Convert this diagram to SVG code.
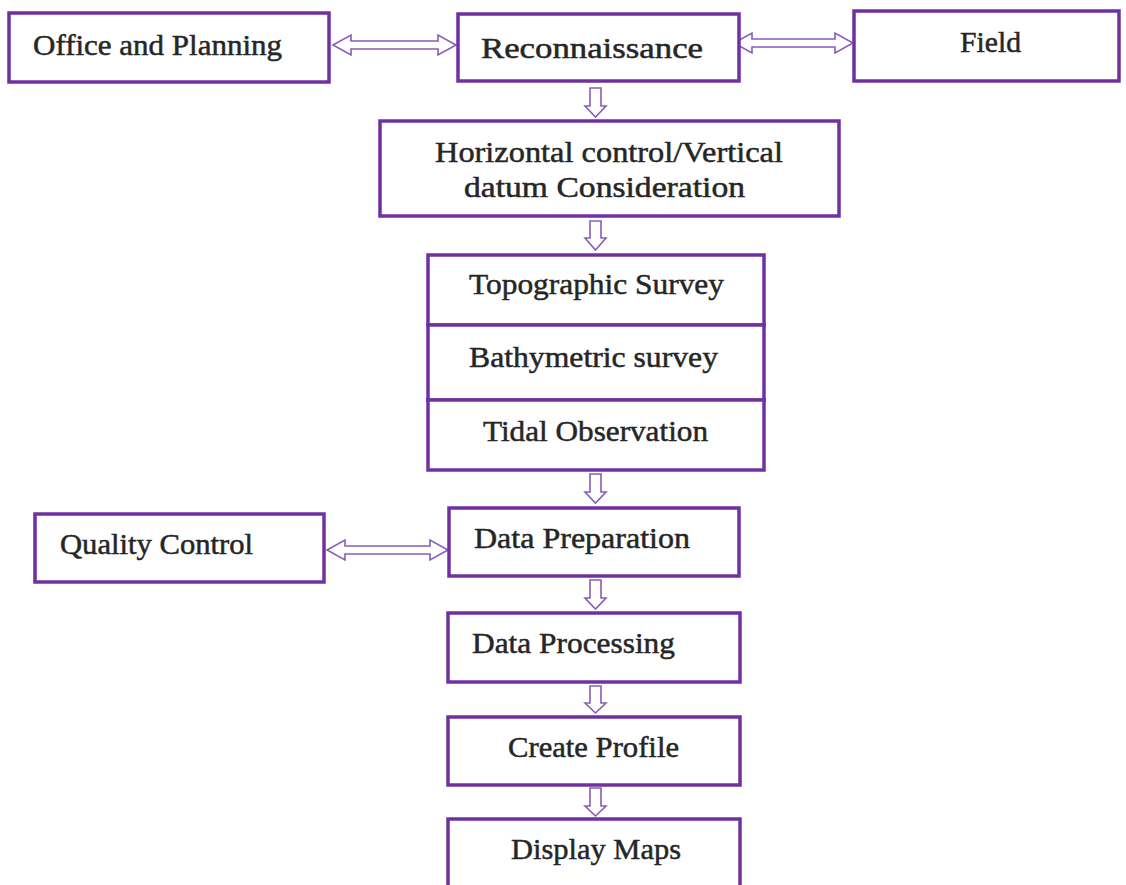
<svg xmlns="http://www.w3.org/2000/svg" width="1126" height="885" viewBox="0 0 1126 885">
<style>
.box{fill:#fff;stroke:#7030a0;stroke-width:3.5}
.t{font-family:"Liberation Serif","DejaVu Serif",serif;font-size:30px;fill:#262626;stroke:#262626;stroke-width:0.5}
.arr{fill:#fff;stroke:#8a5cb8;stroke-width:1.6;stroke-linejoin:miter}
</style>
<rect width="1126" height="885" fill="#fff"/>
<g id="connectors">
<path class="arr" d="M333,45 L351,35 L351,41 L438,41 L438,35 L456,45 L438,55 L438,49 L351,49 L351,55 Z"/>
<path class="arr" d="M734,43 L752,33 L752,39 L835,39 L835,33 L853,43 L835,53 L835,47 L752,47 L752,53 Z"/>
<path class="arr" d="M327,550 L345,540 L345,546 L430,546 L430,540 L448,550 L430,560 L430,554 L345,554 L345,560 Z"/>
<path class="arr" d="M590,88 L601,88 L601,106 L606,106 L595.5,117 L585,106 L590,106 Z"/>
<path class="arr" d="M590,221 L601,221 L601,238 L606,238 L595.5,250 L585,238 L590,238 Z"/>
<path class="arr" d="M590,474 L601,474 L601,492 L606,492 L595.5,503 L585,492 L590,492 Z"/>
<path class="arr" d="M590,580 L601,580 L601,598 L606,598 L595.5,609 L585,598 L590,598 Z"/>
<path class="arr" d="M590,686 L601,686 L601,703 L606,703 L595.5,713 L585,703 L590,703 Z"/>
<path class="arr" d="M590,788 L601,788 L601,806 L606,806 L595.5,816 L585,806 L590,806 Z"/>
</g>
<g id="office"><rect class="box" x="9" y="13" width="320" height="69"/><text class="t" x="33" y="55" textLength="249" lengthAdjust="spacingAndGlyphs">Office and  Planning</text></g>
<g id="recon"><rect class="box" x="458" y="14" width="281" height="67"/><text class="t" x="481" y="58" textLength="222" lengthAdjust="spacingAndGlyphs">Reconnaissance</text></g>
<g id="field"><rect class="box" x="854" y="11" width="265" height="70"/><text class="t" x="960" y="52" textLength="61" lengthAdjust="spacingAndGlyphs">Field</text></g>
<g id="horizontal"><rect class="box" x="380" y="121" width="459" height="95"/><text class="t" x="435" y="162" textLength="348" lengthAdjust="spacingAndGlyphs">Horizontal control/Vertical</text><text class="t" x="464" y="197" textLength="281" lengthAdjust="spacingAndGlyphs">datum Consideration</text></g>
<g id="topo"><rect class="box" x="428" y="255" width="336" height="70"/><text class="t" x="469" y="294" textLength="255" lengthAdjust="spacingAndGlyphs">Topographic Survey</text></g>
<g id="bathy"><rect class="box" x="428" y="325" width="336" height="75"/><text class="t" x="469" y="367" textLength="249" lengthAdjust="spacingAndGlyphs">Bathymetric survey</text></g>
<g id="tidal"><rect class="box" x="428" y="400" width="336" height="70"/><text class="t" x="483" y="441" textLength="225" lengthAdjust="spacingAndGlyphs">Tidal Observation</text></g>
<g id="quality"><rect class="box" x="35" y="514" width="289" height="68"/><text class="t" x="60" y="554" textLength="193" lengthAdjust="spacingAndGlyphs">Quality Control</text></g>
<g id="prep"><rect class="box" x="449" y="508" width="290" height="68"/><text class="t" x="474" y="548" textLength="216" lengthAdjust="spacingAndGlyphs">Data Preparation</text></g>
<g id="processing"><rect class="box" x="448" y="613" width="292" height="69"/><text class="t" x="472" y="653" textLength="203" lengthAdjust="spacingAndGlyphs">Data Processing</text></g>
<g id="profile"><rect class="box" x="448" y="717" width="292" height="68"/><text class="t" x="508" y="757" textLength="171" lengthAdjust="spacingAndGlyphs">Create Profile</text></g>
<g id="maps"><rect class="box" x="448" y="819" width="292" height="75"/><text class="t" x="511" y="859" textLength="170" lengthAdjust="spacingAndGlyphs">Display Maps</text></g>
</svg>
